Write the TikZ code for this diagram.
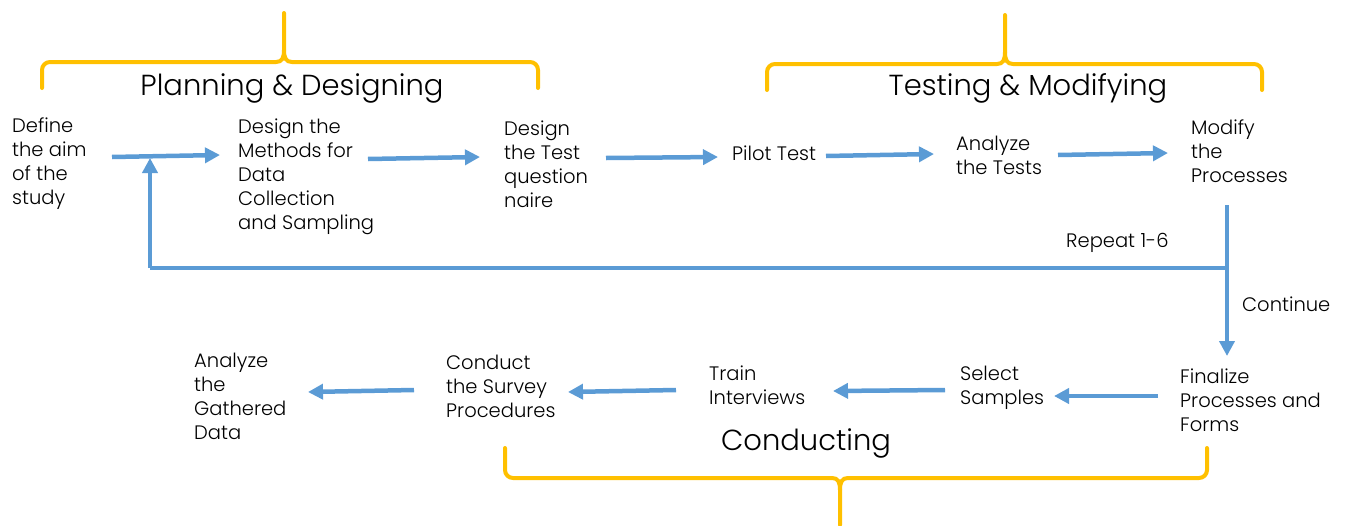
\documentclass[tikz,border=0pt]{standalone}
\usepackage{fontspec}
\setmainfont{Poppins}[UprightFont=* Light]
\usetikzlibrary{arrows.meta}
\definecolor{flowblue}{HTML}{5B9BD5}
\definecolor{braceor}{HTML}{FFC000}
\tikzset{
  lbl/.style={anchor=west,align=left,inner sep=0pt,font=\fontsize{19.5}{24}\selectfont},
  ttl/.style={inner sep=0pt,font=\fontsize{29}{32}\selectfont},
  arr/.style={draw=flowblue,line width=4.5pt,-{Triangle[length=15pt,width=15pt]}},
  bline/.style={draw=flowblue,line width=4.5pt},
  brc/.style={draw=braceor,line width=4pt,line cap=round}
}
\begin{document}
\begin{tikzpicture}[x=1pt,y=-1pt]
\useasboundingbox (0,0) rectangle (1347,525);
% braces
\draw[brc,rounded corners=8pt] (42,88) -- (42,62) -- (276,62);
\draw[brc] (276,62) .. controls (282,62) and (284,58) .. (284,50) -- (284,13);
\draw[brc,rounded corners=8pt] (538,88) -- (538,62) -- (292,62);
\draw[brc] (292,62) .. controls (286,62) and (284,58) .. (284,50);
\draw[brc,rounded corners=8pt] (767,90) -- (767,64) -- (997,64);
\draw[brc] (997,64) .. controls (1003,64) and (1005,60) .. (1005,52) -- (1005,15);
\draw[brc,rounded corners=8pt] (1262,90) -- (1262,64) -- (1013,64);
\draw[brc] (1013,64) .. controls (1007,64) and (1005,60) .. (1005,52);
\draw[brc,rounded corners=8pt] (505,448) -- (505,478) -- (832,478);
\draw[brc] (832,478) .. controls (838,478) and (840,482) .. (840,490) -- (840,525);
\draw[brc,rounded corners=8pt] (1207,448) -- (1207,478) -- (848,478);
\draw[brc] (848,478) .. controls (842,478) and (840,482) .. (840,490);
% titles
\node[ttl] (tplan) at (292,88) {Planning \& Designing};
\node[ttl] (ttest) at (1028,88) {Testing \& Modifying};
\node[ttl] (tcond) at (806,443) {Conducting};
% step labels
\node[lbl] (n1) at (12,164) {Define\\the aim\\of the\\study};
\node[lbl] (n2) at (238,177) {Design the\\Methods for\\Data\\Collection\\and Sampling};
\node[lbl] (n3) at (504,164) {Design\\the Test\\question\\naire};
\node[lbl] (n4) at (732,153) {Pilot Test};
\node[lbl] (n5) at (956,155) {Analyze\\the Tests};
\node[lbl] (n6) at (1191,151) {Modify\\the\\Processes};
\node[lbl] (n7) at (1180,400) {Finalize\\Processes and\\Forms};
\node[lbl] (n8) at (960,388) {Select\\Samples};
\node[lbl] (n9) at (709,385) {Train\\Interviews};
\node[lbl] (n10) at (446,386) {Conduct\\the Survey\\Procedures};
\node[lbl] (n11) at (194,396) {Analyze\\the\\Gathered\\Data};
\node[lbl] (rep) at (1066,243) {Repeat 1-6};
\node[lbl] (cont) at (1242,304) {Continue};
% arrow end points
\coordinate (a1s) at (112,157); \coordinate (a1e) at (220,155);
\coordinate (a2s) at (368,159); \coordinate (a2e) at (480,157);
\coordinate (a3s) at (606,158); \coordinate (a3e) at (718,157);
\coordinate (a4s) at (826,156); \coordinate (a4e) at (934,154);
\coordinate (a5s) at (1058,155); \coordinate (a5e) at (1168,153);
\coordinate (vtop) at (1227,205); \coordinate (vjoin) at (1227,268);
\coordinate (vend) at (1227,356);
\coordinate (lcorner) at (150,268); \coordinate (lend) at (150,158);
\coordinate (b1s) at (1158,396); \coordinate (b1e) at (1054,396);
\coordinate (b2s) at (945,390); \coordinate (b2e) at (833,391);
\coordinate (b3s) at (676,390); \coordinate (b3e) at (568,392);
\coordinate (b4s) at (414,390); \coordinate (b4e) at (308,392);
% arrows
\draw[arr] (a1s) -- (a1e);
\draw[arr] (a2s) -- (a2e);
\draw[arr] (a3s) -- (a3e);
\draw[arr] (a4s) -- (a4e);
\draw[arr] (a5s) -- (a5e);
\draw[arr] (vtop) -- (vend);
\draw[bline] (vjoin) -- (lcorner);
\draw[arr] (lcorner) -- (lend);
\draw[arr] (b1s) -- (b1e);
\draw[arr] (b2s) -- (b2e);
\draw[arr] (b3s) -- (b3e);
\draw[arr] (b4s) -- (b4e);
\end{tikzpicture}
\end{document}
